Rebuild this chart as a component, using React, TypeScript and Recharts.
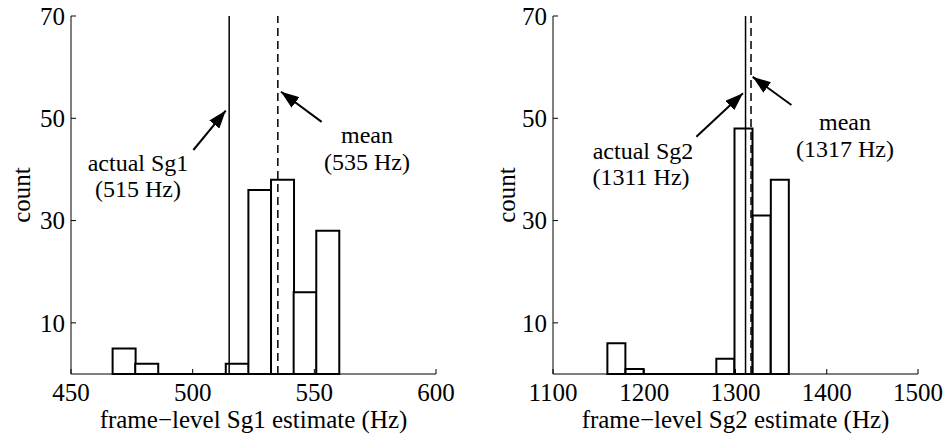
import React from 'react';
import { ComposedChart, Bar, XAxis, YAxis, ReferenceLine } from 'recharts';

const FONT = '"Liberation Serif", "Times New Roman", serif';

// Sg1 histogram: bin centres (Hz) and frame counts
const sg1Bins = [471.75, 481.05, 490.35, 499.65, 508.95, 518.25, 527.55, 536.85, 546.15, 555.45];
const sg1Counts = [5, 2, 0, 0, 0, 2, 36, 38, 16, 28];
const sg1Ticks = [450, 500, 550, 600];
const sg1Actual = 515;
const sg1Mean = 535;

// Sg2 histogram
const sg2Bins = [1169.55, 1189.45, 1209.35, 1229.25, 1249.15, 1269.05, 1288.95, 1308.85, 1328.75, 1348.65];
const sg2Counts = [6, 1, 0, 0, 0, 0, 3, 48, 31, 38];
const sg2Ticks = [1100, 1200, 1300, 1400, 1500];
const sg2Actual = 1311;
const sg2Mean = 1317;

const countTicks = [10, 30, 50, 70];

type Pt = { x: number; y: number };
type Arrow = [Pt, Pt];

// arrows in data units: tail -> tip
const sg1Arrows: Arrow[] = [
  [{ x: 500.3, y: 43.8 }, { x: 513.6, y: 51.5 }],
  [{ x: 553.0, y: 49.3 }, { x: 536.3, y: 55.2 }],
];
const sg2Arrows: Arrow[] = [
  [{ x: 1257.1, y: 46.4 }, { x: 1308.2, y: 54.9 }],
  [{ x: 1361.3, y: 52.6 }, { x: 1318.8, y: 58.1 }],
];

const arrowShape = (p: any) => (
  <line x1={p.x1} y1={p.y1} x2={p.x2} y2={p.y2} stroke="#000" strokeWidth={2} markerEnd="url(#arrowHead)" />
);

interface PanelProps {
  bins: number[];
  counts: number[];
  domain: [number, number];
  ticks: number[];
  actual: number;
  mean: number;
  arrows: Arrow[];
  xLabel: string;
  marginLeft: number;
  marginRight: number;
}

const HistPanel: React.FC<PanelProps> = ({ bins, counts, domain, ticks, actual, mean, arrows, xLabel, marginLeft, marginRight }) => {
  const data = bins.map((x, i) => ({ x, count: counts[i] }));
  const half = (bins[1] - bins[0]) / 2;
  const tick = { fill: '#000', fontSize: 25, fontFamily: FONT };
  return (
    <ComposedChart
      width={475}
      height={435}
      data={data}
      barCategoryGap={0}
      barGap={0}
      margin={{ top: 16, right: marginRight, bottom: 0, left: marginLeft }}
    >
      <XAxis
        type="number"
        dataKey="x"
        domain={domain}
        ticks={ticks}
        interval={0}
        allowDataOverflow
        height={61}
        tickSize={-5}
        tickMargin={14}
        tick={tick}
        axisLine={{ stroke: '#000', strokeWidth: 1 }}
        tickLine={{ stroke: '#000', strokeWidth: 1 }}
        label={{ value: xLabel, position: 'insideBottom', offset: 7, fill: '#000', fontSize: 25, fontFamily: FONT }}
      />
      <YAxis
        type="number"
        domain={[0, 70]}
        ticks={countTicks}
        interval={0}
        width={71}
        tickSize={-5}
        tickMargin={11}
        tick={tick}
        axisLine={{ stroke: '#000', strokeWidth: 1 }}
        tickLine={{ stroke: '#000', strokeWidth: 1 }}
      />
      <Bar dataKey="count" fill="#fff" stroke="#000" strokeWidth={2} isAnimationActive={false} />
      {/* empty bins still sit on the baseline */}
      <ReferenceLine
        segment={[{ x: bins[0] - half, y: 0 }, { x: bins[bins.length - 1] + half, y: 0 }]}
        stroke="#000"
        strokeWidth={2}
      />
      <ReferenceLine x={actual} stroke="#000" strokeWidth={1.5} />
      <ReferenceLine x={mean} stroke="#000" strokeWidth={1.5} strokeDasharray="8 5" />
      {arrows.map((a, i) => (
        <ReferenceLine key={i} segment={a} shape={arrowShape} />
      ))}
    </ComposedChart>
  );
};

const txt: React.CSSProperties = { fontFamily: FONT, fontSize: 24 };

export default function App() {
  return (
    <div style={{ position: 'relative', width: 950, height: 435, background: '#fff' }}>
      <style>{'body{margin:0}'}</style>
      <svg width={0} height={0} style={{ position: 'absolute' }}>
        <defs>
          <marker id="arrowHead" viewBox="0 0 18 13" refX={18} refY={6.5} markerWidth={18} markerHeight={13} markerUnits="userSpaceOnUse" orient="auto">
            <path d="M0,0 L18,6.5 L0,13 z" fill="#000" />
          </marker>
        </defs>
      </svg>
      <div style={{ position: 'absolute', left: 0, top: 0 }}>
        <HistPanel
          bins={sg1Bins}
          counts={sg1Counts}
          domain={[450, 600]}
          ticks={sg1Ticks}
          actual={sg1Actual}
          mean={sg1Mean}
          arrows={sg1Arrows}
          xLabel="frame−level Sg1 estimate (Hz)"
          marginLeft={0}
          marginRight={39}
        />
      </div>
      <div style={{ position: 'absolute', left: 475, top: 0 }}>
        <HistPanel
          bins={sg2Bins}
          counts={sg2Counts}
          domain={[1100, 1500]}
          ticks={sg2Ticks}
          actual={sg2Actual}
          mean={sg2Mean}
          arrows={sg2Arrows}
          xLabel="frame−level Sg2 estimate (Hz)"
          marginLeft={7}
          marginRight={32}
        />
      </div>
      <svg width={950} height={435} style={{ position: 'absolute', left: 0, top: 0, pointerEvents: 'none' }}>
        <g style={{ ...txt, fontSize: 25 }} fill="#000" textAnchor="middle">
          <text x={21} y={195} transform="rotate(-90 21 195)" dominantBaseline="central">count</text>
          <text x={506} y={195} transform="rotate(-90 506 195)" dominantBaseline="central">count</text>
        </g>
        <g style={txt} fill="#000" textAnchor="middle">
          <text x={138} y={171}>actual Sg1</text>
          <text x={138} y={197}>({sg1Actual} Hz)</text>
          <text x={367} y={143}>mean</text>
          <text x={367} y={170}>({sg1Mean} Hz)</text>
          <text x={643} y={159}>actual Sg2</text>
          <text x={641} y={185}>({sg2Actual} Hz)</text>
          <text x={845} y={130}>mean</text>
          <text x={845} y={157}>({sg2Mean} Hz)</text>
        </g>
      </svg>
    </div>
  );
}
